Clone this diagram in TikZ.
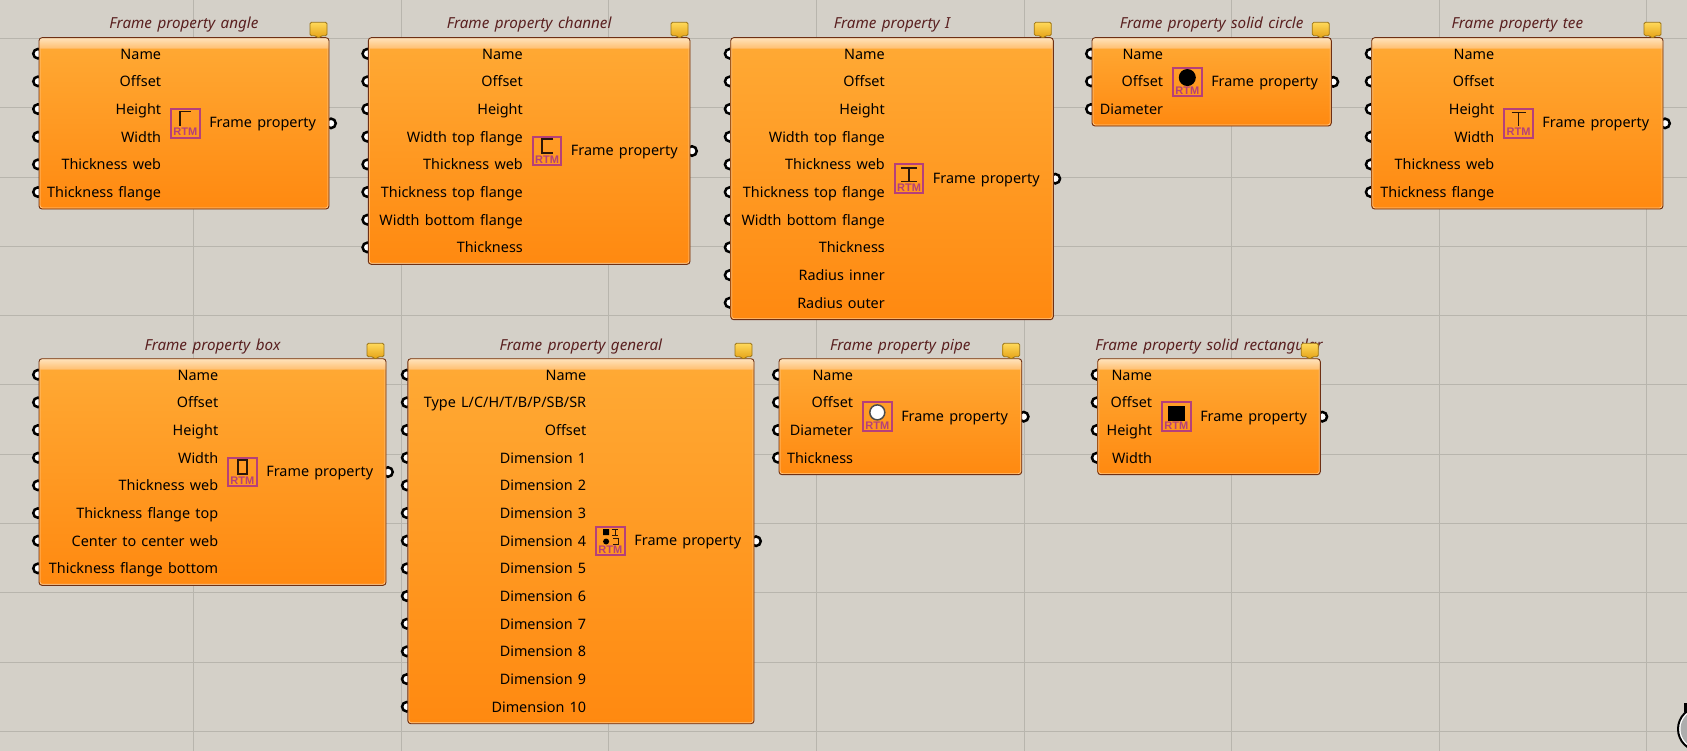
\documentclass[tikz,border=0pt]{standalone}
\usepackage{xcolor}
\usepackage{fontspec}
\setmainfont{Noto Sans}[WordSpace=1.4]
\newfontfamily\rtmfont{Liberation Sans}
\usepackage{tikz}
\usetikzlibrary{positioning,calc}
\definecolor{canvasbg}{HTML}{D4D0C8}
\definecolor{gridline}{HTML}{B8B5AD}
\definecolor{blockedge}{HTML}{6E3014}
\definecolor{blocktop}{HTML}{FFAA35}
\definecolor{blockbot}{HTML}{FF8910}
\definecolor{striptop}{HTML}{FFE3BC}
\definecolor{stripbot}{HTML}{FFBE6E}
\definecolor{inneredge}{HTML}{FFC88A}
\definecolor{titlered}{HTML}{5A2020}
\definecolor{rtmpink}{HTML}{B5407A}
\definecolor{glyphdark}{HTML}{2A1608}
\definecolor{bubbletop}{HTML}{FFD95A}
\definecolor{bubblebot}{HTML}{E39E12}
\definecolor{bubbleedge}{HTML}{9C7414}

% name, left, right, top, rows, right end of inputs, title, glyph, inputs
\newcommand{\propblock}[9]{
	\pgfmathsetmacro{\blockh}{#5*27.67+5.3}
	\pgfmathsetmacro{\midy}{#4+\blockh/2}
	\foreach \lbl [count=\n] in {#9}
		\node[grip] (#1grip\n) at ({#2-1},{#4+16+(\n-1)*27.67}) {};
	\node[grip] (#1out) at ({#3+2},\midy) {};
	\node[block,minimum width=#3pt-#2pt,minimum height=\blockh pt] (#1) at ({#2},{#4}) {};
	\draw[inneredge,line width=.8pt,rounded corners=2.5pt] ({#2+1},{#4+1}) rectangle ({#3-1},{#4+\blockh-1});
	\shade[top color=striptop,bottom color=stripbot] ({#2},{#4+11}) [rounded corners=3pt] -- ({#2},{#4}) -- ({#3},{#4}) [sharp corners] -- ({#3},{#4+11}) -- cycle;
	\draw[blockedge,line width=.9pt,rounded corners=3pt] ({#2},{#4}) rectangle ({#3},{#4+\blockh});
	\foreach \lbl [count=\n] in {#9}
		\node[inlabel] (#1in\n) at ({#6},{#4+21.5+(\n-1)*27.67}) {\lbl};
	\node[blocktitle] (#1title) at ({(#2+#3)/2},{#4-9.7}) {#7};
	\node[rtmicon] (#1icon) at ({#6+24},\midy) {};
	\node[rtmtext] (#1rtm) at ($(#1icon)+(0,8.7)$) {RTM};
	\begin{scope}[shift={(#1icon)}]
		#8
	\end{scope}
	\node[outlabel] (#1label) [right=8.5pt of #1icon,yshift=-1pt] {Frame property};
	\begin{scope}[shift={({#3-10.5},{#4+2})}]
		\shade[top color=bubbletop,bottom color=bubblebot,draw=bubbleedge,line width=.8pt,rounded corners=1.5pt] (-8.5,-17.4) -- (8.5,-17.4) -- (8.5,-4) -- (2.5,-4) -- (0,-1) -- (-2.5,-4) -- (-8.5,-4) -- cycle;
	\end{scope}
}

\begin{document}
\begin{tikzpicture}[x=1pt,y=-1pt,
	grip/.style={circle,draw=black,line width=2.5pt,fill=white,inner sep=0pt,minimum size=9.5pt},
	block/.style={anchor=north west,inner sep=0pt,outer sep=0pt,rounded corners=3pt,top color=blocktop,bottom color=blockbot},
	inlabel/.style={anchor=base east,inner sep=0pt,font=\fontsize{14.4}{16}\selectfont,text=black},
	outlabel/.style={inner sep=0pt,font=\fontsize{14.4}{16}\selectfont,text=black},
	blocktitle/.style={anchor=base,inner sep=0pt,yshift=-1pt,font=\fontsize{15.2}{16}\selectfont\itshape,text=titlered},
	rtmicon/.style={draw=rtmpink,line width=2pt,inner sep=0pt,minimum size=28.5pt},
	rtmtext/.style={inner sep=0pt,text=rtmpink,font=\rtmfont\fontsize{11}{10}\selectfont\bfseries},
	glyph/.style={draw=glyphdark,line width=1.5pt}]
	\useasboundingbox (0,0) rectangle (1687,751);
	\fill[canvasbg] (0,0) rectangle (1687,751);
	\foreach \gx in {0,...,7}
		\draw[gridline] ({193.3+\gx*207.6},0) -- ({193.3+\gx*207.6},751);
	\foreach \gy in {0,...,10}
		\draw[gridline] (0,{38.3+\gy*69.27}) -- (1687,{38.3+\gy*69.27});

	\propblock{angle}{39}{329}{37.7}{6}{161.3}{Frame property angle}
		{\draw[glyph] (-5.3,2.3) -- (-5.3,-12) -- (5.3,-12);}
		{Name,Offset,Height,Width,Thickness web,Thickness flange}
	\propblock{channel}{368.3}{690}{37.7}{8}{523}{Frame property channel}
		{\draw[glyph] (6,-12) -- (-5,-12) -- (-5,2) -- (6,2);}
		{Name,Offset,Height,Width top flange,Thickness web,Thickness top flange,Width bottom flange,Thickness}
	\propblock{ibeam}{730.7}{1053.3}{37.7}{10}{885}{Frame property I}
		{\draw[glyph] (-8,-10.7) -- (8,-10.7) (0,-10.7) -- (0,2.7) (-8,2.7) -- (8,2.7);}
		{Name,Offset,Height,Width top flange,Thickness web,Thickness top flange,Width bottom flange,Thickness,Radius inner,Radius outer}
	\propblock{solidcircle}{1092}{1331.3}{37.7}{3}{1163.3}{Frame property solid circle}
		{\fill[black] (0,-4.3) circle (8.5);}
		{Name,Offset,Diameter}
	\propblock{tee}{1371.7}{1663}{37.7}{6}{1494.5}{Frame property tee}
		{\draw[glyph] (-7,-11) -- (7,-11) (0,-11) -- (0,3);}
		{Name,Offset,Height,Width,Thickness web,Thickness flange}

	\propblock{box}{39}{386}{358.7}{8}{218.4}{Frame property box}
		{\draw[glyph] (-4.5,-12) rectangle (4.5,2);}
		{Name,Offset,Height,Width,Thickness web,Thickness flange top,Center to center web,Thickness flange bottom}
	\propblock{general}{407.8}{754}{358.7}{13}{586.4}{Frame property general}
		{\fill[black] (-7.3,-12) rectangle (-1.3,-6) (-4.3,0.3) circle (3);
		\draw[glyph,line width=1.1pt] (1.5,-12) -- (8,-12) (4.7,-12) -- (4.7,-6) (1.5,-6) -- (8,-6) (2.5,-3) -- (8,-3) -- (8,3) -- (2.5,3);}
		{Name,Type L/C/H/T/B/P/SB/SR,Offset,Dimension 1,Dimension 2,Dimension 3,Dimension 4,Dimension 5,Dimension 6,Dimension 7,Dimension 8,Dimension 9,Dimension 10}
	\propblock{pipe}{779}{1021.7}{358.7}{4}{853.3}{Frame property pipe}
		{\draw[draw=black!70,fill=white,line width=1.5pt] (0,-4.3) circle (7.5);}
		{Name,Offset,Diameter,Thickness}
	\propblock{solidrect}{1097.7}{1320.3}{358.7}{4}{1152.3}{Frame property solid rectangular}
		{\fill[black] (-8.7,-11) rectangle (8.7,4);}
		{Name,Offset,Height,Width}

	\begin{scope}
		\clip (0,0) rectangle (1687,751);
		\fill[black] (1683.5,702.5) rectangle (1687,712);
		\draw[black,line width=2pt,fill=white] (1700,729) circle (22);
		\fill[black!32] (1700,729) circle (19.5);
	\end{scope}
\end{tikzpicture}
\end{document}
